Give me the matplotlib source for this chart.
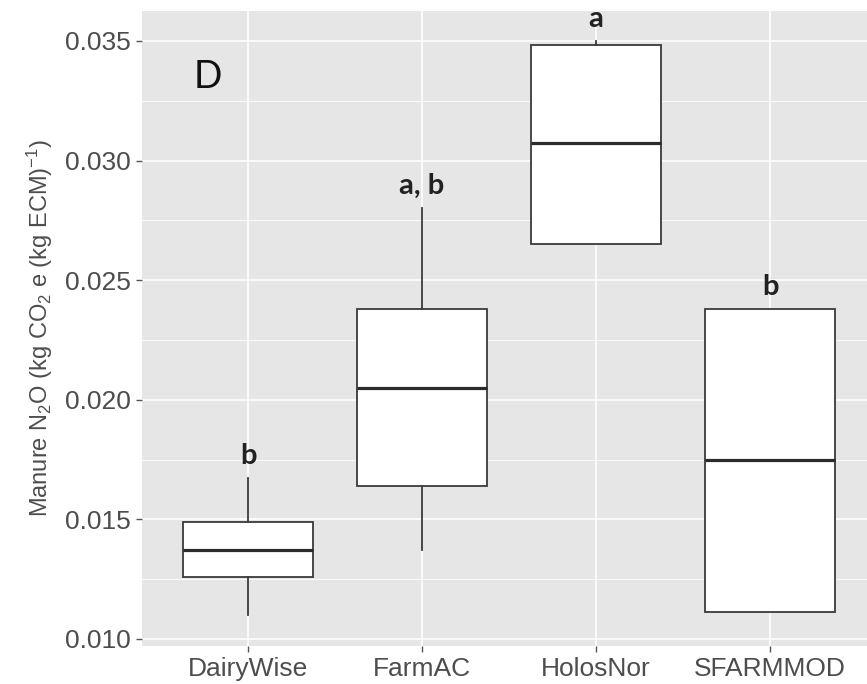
import matplotlib
matplotlib.use('Agg')
import matplotlib.pyplot as plt
from matplotlib.ticker import MultipleLocator

plt.rcParams['font.family'] = ['Liberation Sans', 'DejaVu Sans']
plt.rcParams['mathtext.fontset'] = 'custom'
plt.rcParams['mathtext.rm'] = 'Liberation Sans'
plt.rcParams['mathtext.it'] = 'Liberation Sans:italic'

# Model names and box statistics
models = ['DairyWise', 'FarmAC', 'HolosNor', 'SFARMMOD']
whisker_low = [0.0110, 0.01372, 0.02651, 0.01114]
q1 = [0.01258, 0.01640, 0.02651, 0.01114]
median = [0.01372, 0.02048, 0.03074, 0.01748]
q3 = [0.01490, 0.02380, 0.03483, 0.02378]
whisker_high = [0.01673, 0.02801, 0.03500, 0.02378]
letters = ['b', 'a, b', 'a', 'b']

stats = []
for i, name in enumerate(models):
    stats.append({'label': name, 'whislo': whisker_low[i], 'q1': q1[i],
                  'med': median[i], 'q3': q3[i], 'whishi': whisker_high[i]})

fig = plt.figure(figsize=(8.67, 6.84), dpi=100)
ax = fig.add_axes([142 / 867, 38 / 684, 725 / 867, 635 / 684])
ax.set_facecolor('#E6E6E6')

positions = list(range(1, len(models) + 1))
ax.bxp(stats, positions=positions, widths=0.75, showcaps=False, showfliers=False,
       patch_artist=True,
       boxprops=dict(facecolor='white', edgecolor='#3a3a3a', linewidth=1.3),
       medianprops=dict(color='#2b2b2b', linewidth=2.3),
       whiskerprops=dict(color='#3a3a3a', linewidth=1.3),
       zorder=3)

# significance letters above the whiskers
for pos, top, lab in zip(positions, whisker_high, letters):
    ax.annotate(lab, (pos, top), xytext=(0, 10), textcoords='offset points',
                ha='center', va='baseline', fontsize=21, fontweight='bold',
                family=['Lato', 'DejaVu Sans'], color='#222222', zorder=4)

ax.text(0.091, 0.896, 'D', transform=ax.transAxes, fontsize=27,
        family=['Lato', 'DejaVu Sans'], color='#111111', ha='center', va='center')

ax.set_xlim(0.39, 4.557)
ax.set_ylim(0.009707, 0.036254)
ax.set_xticks(positions)
ax.set_xticklabels(models)
ax.yaxis.set_major_locator(MultipleLocator(0.005))
ax.yaxis.set_minor_locator(MultipleLocator(0.0025))
ax.yaxis.set_major_formatter(matplotlib.ticker.FormatStrFormatter('%.3f'))

ax.grid(True, which='major', color='white', linewidth=1.2, zorder=0)
ax.grid(True, which='minor', axis='y', color='white', linewidth=0.6, zorder=0)
ax.set_axisbelow(True)
for s in ax.spines.values():
    s.set_visible(False)

ax.tick_params(axis='both', which='major', length=4, width=1, color='#555555',
               labelsize=19, labelcolor='#4D4D4D', pad=4)
ax.tick_params(axis='y', which='minor', length=0)

fig.text(40 / 867, 1 - 328 / 684, r'Manure N$_2$O (kg CO$_2$ e (kg ECM)$^{-1}$)',
         rotation=90, ha='center', va='center', fontsize=17, color='#4D4D4D')

fig.savefig('out.png', dpi=100)
